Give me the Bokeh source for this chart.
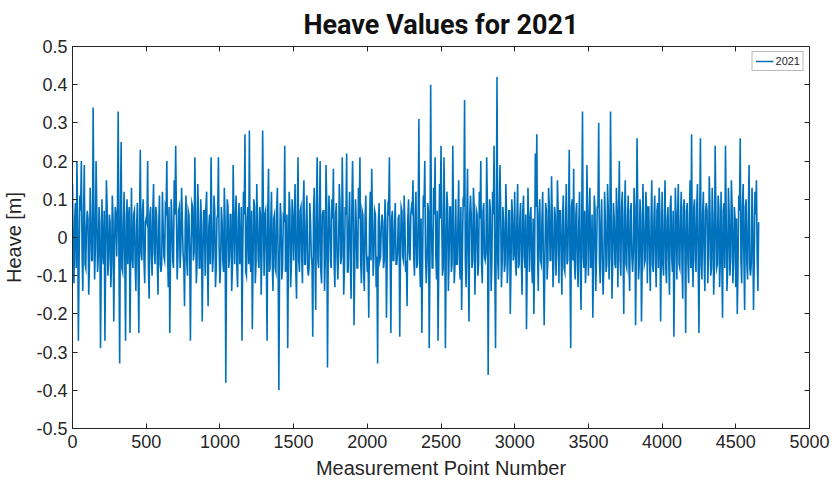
import numpy as np
from bokeh.plotting import figure
from bokeh.models import LinearAxis, Legend, LegendItem, FixedTicker, CustomJSTickFormatter
from bokeh.embed import file_html
from bokeh.resources import INLINE

heave_0000_0990 = [
    0.14, -0.12, 0.09, 0.20, -0.27, 0.11, 0.20, -0.14, 0.19, -0.08,
    0.07, -0.15, 0.13, -0.06, 0.34, -0.11, 0.20, -0.09, 0.08, -0.29,
    0.10, -0.07, -0.27, 0.15, -0.10, 0.06, -0.13, 0.11, -0.22, 0.08,
    -0.05, 0.33, -0.33, 0.25, -0.09, 0.12, -0.27, 0.10, 0.05, -0.25,
    0.13, -0.08, 0.07, -0.14, 0.09, -0.25, 0.23, -0.06, 0.10, -0.12,
    0.05, 0.20, -0.16, 0.08, -0.10, 0.14, -0.07, 0.06, -0.15, 0.11,
    -0.09, 0.12, -0.05, 0.08, 0.20, -0.13, -0.25, 0.10, -0.06, 0.15,
    0.24, -0.11, 0.07, -0.08, 0.13, -0.04, -0.18, 0.11, -0.10, 0.06,
    -0.27, 0.09, -0.06, 0.21, -0.12, 0.14, -0.08, 0.10, -0.22, 0.07,
    -0.10, 0.12, -0.18, 0.06, 0.21, -0.09, 0.11, -0.13, 0.05, 0.21,
]
heave_1000_1990 = [
    -0.12, 0.08, -0.06, 0.13, -0.38, 0.10, -0.08, 0.06, -0.14, 0.19,
    -0.07, 0.11, -0.13, 0.09, -0.05, -0.27, 0.12, 0.27, -0.10, 0.08,
    0.28, -0.09, -0.24, 0.10, -0.12, 0.14, -0.06, 0.08, -0.15, 0.28,
    -0.10, 0.07, -0.27, 0.18, -0.08, 0.12, -0.14, 0.06, -0.09, 0.13,
    -0.40, 0.09, -0.11, 0.05, 0.24, -0.07, -0.29, 0.12, -0.13, 0.10,
    -0.06, 0.14, -0.16, 0.21, -0.09, 0.08, -0.12, 0.15, -0.07, 0.11,
    -0.10, 0.09, -0.05, -0.26, 0.13, -0.19, 0.21, -0.08, 0.20, -0.12,
    0.07, -0.14, 0.19, -0.34, 0.11, -0.06, 0.10, 0.18, -0.13, 0.09,
    -0.11, 0.14, -0.07, 0.21, -0.15, 0.08, 0.22, -0.09, 0.12, -0.16,
    0.20, -0.23, 0.10, -0.08, 0.13, 0.21, -0.12, 0.06, -0.14, 0.11,
]
heave_2000_2990 = [
    -0.09, -0.21, 0.12, 0.18, -0.10, 0.07, -0.13, -0.33, 0.09, -0.05,
    0.06, -0.08, 0.10, -0.21, 0.08, 0.21, -0.25, 0.07, -0.06, 0.09,
    -0.07, 0.05, -0.26, 0.08, -0.05, 0.11, -0.09, -0.18, 0.10, -0.06,
    0.08, 0.15, -0.10, 0.12, -0.07, 0.31, -0.13, -0.25, 0.11, 0.20,
    -0.12, 0.09, -0.29, 0.40, -0.08, 0.13, 0.21, -0.11, -0.27, 0.14,
    0.24, -0.10, 0.21, -0.29, 0.12, -0.14, 0.08, -0.09, 0.24, -0.12,
    0.10, -0.07, 0.15, -0.11, -0.19, 0.09, 0.36, -0.13, 0.18, -0.22,
    0.11, -0.08, 0.13, -0.15, 0.07, -0.10, 0.12, 0.20, -0.12, 0.09,
    -0.06, 0.21, -0.36, 0.10, -0.14, 0.12, 0.24, -0.29, 0.42, -0.11,
    0.19, -0.13, 0.08, -0.09, 0.14, -0.12, 0.07, -0.20, 0.10, -0.06,
]
heave_3000_3990 = [
    0.12, -0.10, 0.14, -0.07, 0.09, -0.15, 0.11, -0.08, -0.24, 0.13,
    -0.09, 0.08, -0.12, -0.20, 0.22, 0.27, -0.14, 0.10, -0.07, 0.12,
    -0.23, 0.09, -0.11, 0.13, -0.06, 0.16, -0.13, 0.08, -0.10, 0.15,
    -0.12, 0.07, -0.15, 0.11, -0.09, 0.14, -0.06, 0.23, -0.29, 0.10,
    0.18, -0.11, 0.09, -0.13, 0.12, -0.19, 0.33, -0.08, -0.12, 0.19,
    -0.10, 0.13, -0.07, -0.21, 0.11, -0.14, 0.08, 0.30, -0.12, 0.10,
    -0.15, 0.12, -0.09, 0.14, -0.11, 0.33, -0.16, 0.09, -0.07, 0.13,
    -0.13, 0.20, -0.10, 0.12, -0.20, 0.15, -0.08, 0.11, -0.14, 0.09,
    -0.09, 0.13, -0.23, 0.26, -0.11, 0.10, -0.22, 0.14, -0.07, 0.12,
    -0.12, 0.08, -0.14, 0.15, -0.09, 0.11, -0.13, 0.09, 0.13, -0.22,
]
heave_4000_4650 = [
    0.12, -0.10, 0.15, -0.12, 0.08, -0.15, 0.11, -0.09, -0.26, 0.13,
    -0.11, 0.14, -0.08, 0.12, -0.16, 0.10, -0.25, 0.09, -0.12, 0.15,
    0.27, -0.13, 0.10, -0.09, 0.14, -0.25, 0.26, -0.11, 0.12, -0.14,
    0.09, -0.12, 0.16, -0.10, 0.13, -0.15, 0.24, -0.08, 0.11, -0.13,
    0.12, -0.21, 0.09, 0.24, -0.14, 0.13, -0.10, 0.15, -0.12, 0.08,
    -0.13, -0.20, 0.11, 0.26, -0.12, 0.14, -0.19, 0.10, -0.11, 0.19,
    -0.10, 0.13, -0.19, 0.12, 0.15, -0.14,
]

# Heave values [m] at measurement points 5, 15, 25, ... (dense core of the band)
heave_mid_0005_0995 = [
    -0.06, 0.05, -0.08, 0.04, -0.05, 0.07, -0.04, 0.06, -0.07, 0.03,
    0.05, -0.07, 0.04, -0.06, 0.08, -0.03, 0.06, -0.05, 0.04, -0.08,
    -0.04, 0.07, -0.05, 0.08, -0.06, 0.04, -0.07, 0.05, -0.03, 0.06,
    0.07, -0.04, 0.06, -0.08, 0.03, -0.06, 0.05, -0.07, 0.08, -0.05,
    -0.05, 0.06, -0.07, 0.03, -0.08, 0.05, -0.04, 0.07, -0.06, 0.04,
    0.04, -0.08, 0.06, -0.05, 0.07, -0.04, 0.08, -0.06, 0.03, -0.07,
    -0.07, 0.03, -0.06, 0.07, -0.04, 0.08, -0.05, 0.04, -0.08, 0.06,
    0.06, -0.05, 0.08, -0.03, 0.05, -0.07, 0.04, -0.06, 0.07, -0.04,
    -0.03, 0.08, -0.04, 0.06, -0.07, 0.05, -0.08, 0.03, -0.05, 0.07,
    0.08, -0.06, 0.03, -0.07, 0.04, -0.05, 0.07, -0.08, 0.06, -0.03,
]
heave_mid_1005_1995 = [
    -0.07, 0.04, -0.09, 0.05, -0.06, 0.08, -0.05, 0.06, -0.08, 0.04,
    0.06, -0.08, 0.05, -0.07, 0.08, -0.04, 0.06, -0.09, 0.05, -0.07,
    -0.05, 0.07, -0.06, 0.08, -0.07, 0.05, -0.08, 0.06, -0.04, 0.07,
    0.06, -0.05, 0.07, -0.09, 0.04, -0.06, 0.05, -0.08, 0.07, -0.05,
    -0.06, 0.05, -0.08, 0.04, -0.09, 0.06, -0.05, 0.07, -0.07, 0.05,
    0.05, -0.09, 0.06, -0.06, 0.07, -0.05, 0.08, -0.07, 0.04, -0.08,
    -0.08, 0.04, -0.07, 0.06, -0.05, 0.08, -0.06, 0.05, -0.09, 0.06,
    0.07, -0.06, 0.08, -0.04, 0.06, -0.08, 0.05, -0.07, 0.06, -0.05,
    -0.04, 0.08, -0.05, 0.07, -0.08, 0.06, -0.09, 0.04, -0.06, 0.07,
    0.07, -0.07, 0.04, -0.08, 0.05, -0.06, 0.07, -0.09, 0.05, -0.04,
]
heave_mid_2005_2995 = [
    -0.05, 0.04, -0.06, 0.05, -0.04, 0.06, -0.05, 0.04, -0.06, 0.03,
    0.04, -0.06, 0.05, -0.05, 0.07, -0.04, 0.05, -0.06, 0.04, -0.07,
    -0.04, 0.06, -0.05, 0.07, -0.06, 0.04, -0.06, 0.05, -0.04, 0.06,
    0.07, -0.05, 0.06, -0.08, 0.04, -0.06, 0.05, -0.07, 0.08, -0.05,
    -0.06, 0.07, -0.07, 0.04, -0.08, 0.06, -0.05, 0.07, -0.06, 0.05,
    0.05, -0.08, 0.07, -0.06, 0.08, -0.05, 0.08, -0.07, 0.04, -0.07,
    -0.07, 0.04, -0.06, 0.08, -0.05, 0.08, -0.06, 0.05, -0.08, 0.06,
    0.06, -0.06, 0.08, -0.04, 0.06, -0.07, 0.05, -0.07, 0.07, -0.05,
    -0.04, 0.08, -0.05, 0.07, -0.07, 0.06, -0.08, 0.04, -0.06, 0.07,
    0.07, -0.06, 0.04, -0.07, 0.05, -0.06, 0.07, -0.08, 0.06, -0.04,
]
heave_mid_3005_3995 = [
    -0.06, 0.05, -0.08, 0.05, -0.06, 0.07, -0.05, 0.06, -0.07, 0.04,
    0.05, -0.07, 0.05, -0.06, 0.08, -0.04, 0.06, -0.06, 0.05, -0.08,
    -0.05, 0.07, -0.06, 0.08, -0.06, 0.05, -0.07, 0.06, -0.04, 0.07,
    0.07, -0.05, 0.06, -0.08, 0.04, -0.07, 0.05, -0.07, 0.08, -0.06,
    -0.06, 0.06, -0.07, 0.04, -0.08, 0.06, -0.05, 0.07, -0.07, 0.05,
    0.05, -0.08, 0.06, -0.06, 0.07, -0.05, 0.08, -0.06, 0.04, -0.07,
    -0.07, 0.04, -0.07, 0.07, -0.05, 0.08, -0.06, 0.05, -0.08, 0.06,
    0.06, -0.06, 0.08, -0.04, 0.06, -0.07, 0.05, -0.07, 0.07, -0.05,
    -0.04, 0.08, -0.05, 0.07, -0.07, 0.06, -0.08, 0.04, -0.06, 0.07,
    0.08, -0.06, 0.04, -0.07, 0.05, -0.06, 0.07, -0.08, 0.06, -0.04,
]
heave_mid_4005_4655 = [
    -0.07, 0.05, -0.08, 0.05, -0.06, 0.08, -0.05, 0.07, -0.07, 0.04,
    0.06, -0.07, 0.05, -0.07, 0.08, -0.04, 0.07, -0.06, 0.05, -0.08,
    -0.05, 0.08, -0.06, 0.08, -0.07, 0.05, -0.07, 0.06, -0.05, 0.07,
    0.07, -0.05, 0.07, -0.08, 0.05, -0.07, 0.06, -0.07, 0.08, -0.06,
    -0.06, 0.07, -0.08, 0.05, -0.08, 0.06, -0.05, 0.08, -0.07, 0.05,
    0.05, -0.08, 0.07, -0.06, 0.08, -0.05, 0.08, -0.07, 0.05, -0.08,
    -0.07, 0.05, -0.07, 0.06, -0.05, 0.04,
]
point_step = 5
x_ticks = [0, 500, 1000, 1500, 2000, 2500, 3000, 3500, 4000, 4500, 5000]
y_ticks = [-0.5, -0.4, -0.3, -0.2, -0.1, 0.0, 0.1, 0.2, 0.3, 0.4, 0.5]
series_label = "2021"

even = np.array(heave_0000_0990 + heave_1000_1990 + heave_2000_2990
                + heave_3000_3990 + heave_4000_4650)
odd = np.array(heave_mid_0005_0995 + heave_mid_1005_1995 + heave_mid_2005_2995
               + heave_mid_3005_3995 + heave_mid_4005_4655)
heave = np.empty(len(even) + len(odd))
heave[0::2] = even
heave[1::2] = odd
points = np.arange(len(heave)) * point_step

REG = "Liberation Sans"
TXT = "#262626"

p = figure(width=832, height=481, x_range=(0, 5000), y_range=(-0.5, 0.5),
           output_backend="svg", toolbar_location=None,
           min_border_left=72, min_border_right=23, min_border_top=43,
           min_border_bottom=51)
p.background_fill_color = "white"
p.border_fill_color = "white"
p.grid.visible = False
p.outline_line_color = TXT
p.outline_line_width = 1

line = p.line(points, heave, line_color="#0072BD", line_width=1.6,
              line_join="miter")

fmt = CustomJSTickFormatter(code="const v = Math.round(tick*10)/10; return v === 0 ? '0' : v.toString();")

p.xaxis.ticker = FixedTicker(ticks=x_ticks)
p.yaxis.ticker = FixedTicker(ticks=y_ticks)
p.yaxis.formatter = fmt
for ax in (p.xaxis[0], p.yaxis[0]):
    ax.major_tick_in = 5
    ax.major_tick_out = 0
    ax.minor_tick_line_color = None
    ax.axis_line_color = TXT
    ax.major_tick_line_color = TXT
    ax.major_label_text_font = REG
    ax.major_label_text_font_size = "18px"
    ax.major_label_text_color = TXT
    ax.axis_label_text_font = REG
    ax.axis_label_text_font_size = "20px"
    ax.axis_label_text_font_style = "normal"
    ax.axis_label_text_color = TXT
p.xaxis.axis_label = "Measurement Point Number"
p.yaxis.axis_label = "Heave [m]"
p.xaxis.major_label_standoff = 6
p.xaxis.axis_label_standoff = 6
p.yaxis.major_label_standoff = 5
p.yaxis.axis_label_standoff = 8

blank = CustomJSTickFormatter(code="return '';")
for loc, tk in (("above", x_ticks), ("right", y_ticks)):
    ax = LinearAxis(ticker=FixedTicker(ticks=tk), formatter=blank,
                    major_tick_in=5, major_tick_out=0,
                    minor_tick_line_color=None, axis_line_color=TXT,
                    major_tick_line_color=TXT, major_label_standoff=0)
    p.add_layout(ax, loc)

p.title.text = "Heave Values for 2021"
p.title.align = "center"
p.title.text_font = "Roboto"
p.title.text_font_size = "27px"
p.title.text_font_style = "bold"
p.title.text_color = "#111111"
p.title.standoff = 12

legend = Legend(items=[LegendItem(label=series_label, renderers=[line])],
                location="top_right", label_text_font=REG, label_text_font_size="11px",
                label_text_color=TXT, glyph_width=18, glyph_height=10,
                label_height=10, padding=3, spacing=0, margin=5,
                border_line_color="#777777", label_standoff=2)
p.add_layout(legend)

open("out.html", "w").write(file_html(p, INLINE))
